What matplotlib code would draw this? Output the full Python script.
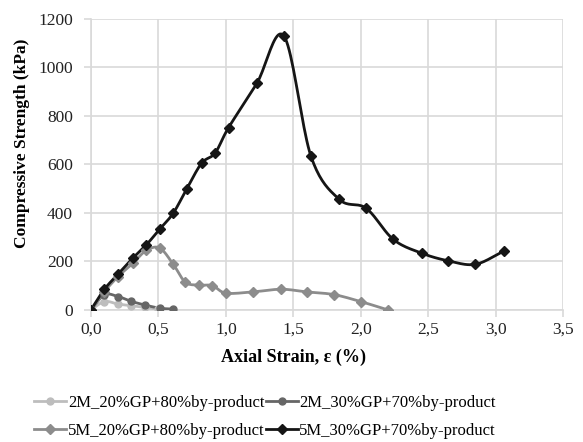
import numpy as np
import matplotlib.pyplot as plt
from matplotlib.ticker import FuncFormatter, MultipleLocator

plt.rcParams['font.family'] = ['Liberation Serif', 'DejaVu Serif']

# strain (%) / compressive strength (kPa)
strain_2m20 = [0.0, 0.10, 0.20, 0.30, 0.40, 0.50]
stress_2m20 = [0, 34, 24, 17, 10, 2]

strain_2m30 = [0.0, 0.10, 0.20, 0.30, 0.40, 0.51, 0.61]
stress_2m30 = [0, 62, 55, 35, 20, 7, 3]

strain_5m20 = [0.0, 0.10, 0.20, 0.31, 0.41, 0.51, 0.61, 0.70, 0.80, 0.90,
               1.00, 1.20, 1.41, 1.60, 1.80, 2.00, 2.20]
stress_5m20 = [0, 75, 137, 192, 245, 255, 188, 114, 102, 100,
               69, 74, 85, 74, 63, 34, 0]

strain_5m30 = [0.0, 0.10, 0.20, 0.31, 0.41, 0.51, 0.61, 0.71, 0.82, 0.92,
               1.02, 1.23, 1.43, 1.63, 1.84, 2.04, 2.24, 2.45, 2.65, 2.85, 3.06]
stress_5m30 = [0, 85, 147, 213, 268, 333, 399, 499, 605, 647,
               752, 935, 1130, 635, 456, 419, 291, 234, 202, 188, 242]


def smooth(x, y, n=20):
    # catmull-rom through the points, like excel's smoothed line
    x = np.asarray(x, float)
    y = np.asarray(y, float)
    px = np.concatenate([[2 * x[0] - x[1]], x, [2 * x[-1] - x[-2]]])
    py = np.concatenate([[2 * y[0] - y[1]], y, [2 * y[-1] - y[-2]]])
    xs, ys = [], []
    t = np.linspace(0, 1, n, endpoint=False)
    for i in range(1, len(px) - 2):
        for p, out in ((px, xs), (py, ys)):
            p0, p1, p2, p3 = p[i - 1], p[i], p[i + 1], p[i + 2]
            out.extend(0.5 * (2 * p1 + (-p0 + p2) * t
                              + (2 * p0 - 5 * p1 + 4 * p2 - p3) * t ** 2
                              + (-p0 + 3 * p1 - 3 * p2 + p3) * t ** 3))
    xs.append(x[-1])
    ys.append(y[-1])
    return xs, ys


fig = plt.figure(figsize=(5.83, 4.42), dpi=100)
ax = fig.add_axes([0.156, 0.299, 0.810, 0.658])

series = [
    (strain_2m20, stress_2m20, '#bdbdbd', 'o', 5, '2M_20%GP+80%by-product'),
    (strain_2m30, stress_2m30, '#666666', 'o', 5, '2M_30%GP+70%by-product'),
    (strain_5m20, stress_5m20, '#8c8c8c', 'D', 5, '5M_20%GP+80%by-product'),
    (strain_5m30, stress_5m30, '#151515', 'D', 5.5, '5M_30%GP+70%by-product'),
]
handles = []
for x, y, c, m, ms, lab in series:
    sx, sy = smooth(x, y)
    ax.plot(sx, sy, color=c, lw=2, zorder=3)
    ax.plot(x, y, ls='none', marker=m, ms=ms, color=c, zorder=4)
    h, = ax.plot([], [], color=c, lw=2, marker=m, ms=ms, label=lab)
    handles.append(h)

ax.set_xlim(0, 3.5)
ax.set_ylim(0, 1200)
ax.xaxis.set_major_locator(MultipleLocator(0.5))
ax.yaxis.set_major_locator(MultipleLocator(200))
ax.xaxis.set_major_formatter(FuncFormatter(lambda v, p: f'{v:.1f}'.replace('.', ',')))
ax.grid(True, color='#d9d9d9', lw=1.2)
ax.set_axisbelow(True)
for s in ['top', 'right']:
    ax.spines[s].set_visible(False)
for s in ['left', 'bottom']:
    ax.spines[s].set_color('#d9d9d9')
    ax.spines[s].set_linewidth(1.2)
ax.tick_params(colors='#d9d9d9', length=5, width=1.2, labelsize=12.5, labelcolor='#222222')
ax.tick_params(axis='y', pad=8)
ax.set_xlabel('Axial Strain, ε (%)', fontsize=13, fontweight='bold')
ax.set_ylabel('Compressive Strength (kPa)', fontsize=12.5, fontweight='bold')
ax.xaxis.set_label_coords(0.428, -0.135)
ax.yaxis.set_label_coords(-0.145, 0.574)
ax.yaxis.label.set_va('center')

order = [handles[0], handles[2], handles[1], handles[3]]
fig.legend(order, [h.get_label() for h in order], loc='center',
           bbox_to_anchor=(0.455, 0.057), ncol=2, frameon=False, fontsize=12,
           handlelength=1.9, handletextpad=0.1, columnspacing=0.1,
           labelspacing=0.75)

fig.savefig('out.png', dpi=100)
